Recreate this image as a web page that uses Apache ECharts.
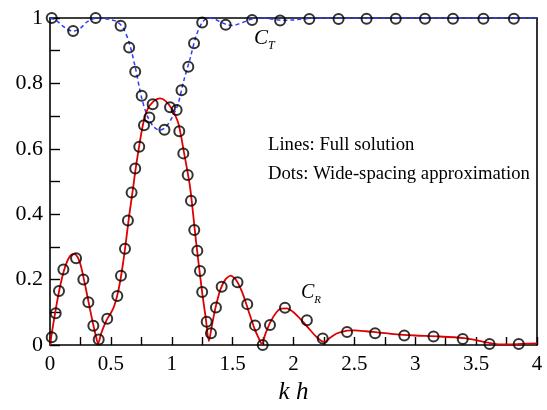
<!DOCTYPE html>
<html>
<head>
<meta charset="utf-8">
<script src="https://cdn.jsdelivr.net/npm/echarts@6/dist/echarts.min.js"></script>
<style>
html,body{margin:0;padding:0;background:#fff;}
#main{width:547px;height:410px;}
</style>
</head>
<body>
<div id="main"></div>
<script>
// Full solution: C_T (dashed blue)
var ctLineX = [0, 0.05, 0.1, 0.15, 0.19, 0.25, 0.3, 0.35, 0.39, 0.45, 0.5, 0.55, 0.6, 0.65, 0.7, 0.75, 0.8, 0.85, 0.9, 0.95, 1.0, 1.05, 1.1, 1.15, 1.2, 1.25, 1.3, 1.35, 1.4, 1.45, 1.5, 1.55, 1.6, 1.65, 1.7, 1.74, 1.8, 1.9, 2.0, 2.1, 2.2, 2.26, 2.4, 2.6, 3.0, 3.5, 4.0];
var ctLineY = [1.0, 0.993, 0.977, 0.964, 0.96, 0.969, 0.987, 0.997, 1.0, 0.998, 0.995, 0.989, 0.97, 0.925, 0.85, 0.76, 0.7, 0.668, 0.657, 0.666, 0.694, 0.735, 0.81, 0.875, 0.945, 0.986, 1.0, 0.997, 0.988, 0.98, 0.977, 0.982, 0.989, 0.996, 0.999, 1.0, 0.998, 0.993, 0.994, 0.998, 1.0, 1.0, 0.999, 0.999, 1.0, 1.0, 1.0];

// Full solution: C_R (solid red)
var crLineX = [0, 0.025, 0.05, 0.075, 0.1, 0.125, 0.15, 0.175, 0.2, 0.225, 0.25, 0.275, 0.3, 0.325, 0.35, 0.375, 0.395, 0.42, 0.45, 0.475, 0.5, 0.525, 0.55, 0.575, 0.6, 0.625, 0.65, 0.684, 0.7, 0.733, 0.766, 0.8, 0.85, 0.903, 0.95, 1.0, 1.054, 1.1, 1.15, 1.2, 1.25, 1.28, 1.305, 1.33, 1.36, 1.4, 1.44, 1.484, 1.53, 1.58, 1.63, 1.68, 1.715, 1.739, 1.77, 1.81, 1.86, 1.9, 1.944, 2.0, 2.06, 2.12, 2.18, 2.23, 2.26, 2.3, 2.36, 2.44, 2.5, 2.6, 2.7, 2.8, 2.9, 3.0, 3.2, 3.4, 3.5, 3.6, 3.7, 3.8, 3.9, 4.0];
var crLineY = [0, 0.06, 0.115, 0.165, 0.207, 0.24, 0.263, 0.276, 0.278, 0.27, 0.247, 0.207, 0.162, 0.116, 0.071, 0.03, 0.004, 0.035, 0.064, 0.083, 0.098, 0.117, 0.148, 0.192, 0.25, 0.32, 0.395, 0.484, 0.53, 0.61, 0.678, 0.72, 0.745, 0.754, 0.746, 0.722, 0.678, 0.59, 0.484, 0.315, 0.16, 0.08, 0.012, 0.06, 0.115, 0.17, 0.2, 0.212, 0.198, 0.16, 0.105, 0.05, 0.02, 0.003, 0.035, 0.07, 0.1, 0.111, 0.112, 0.1, 0.078, 0.053, 0.028, 0.012, 0.01, 0.022, 0.036, 0.044, 0.045, 0.042, 0.038, 0.034, 0.031, 0.029, 0.026, 0.021, 0.015, 0.007, 0.002, 0.002, 0.004, 0.005];

// Wide-spacing approximation: C_T dots
var ctDotX = [0.014, 0.19, 0.375, 0.58, 0.65, 0.70, 0.753, 0.816, 0.94, 1.04, 1.08, 1.136, 1.183, 1.25, 1.443, 1.66, 1.89, 2.13, 2.37, 2.60, 2.84, 3.08, 3.31, 3.56, 3.81];
var ctDotY = [1.0, 0.96, 1.0, 0.976, 0.91, 0.836, 0.762, 0.696, 0.658, 0.719, 0.779, 0.851, 0.923, 0.986, 0.979, 0.994, 0.992, 0.997, 0.997, 0.998, 0.998, 0.998, 0.998, 0.998, 0.998];

// Wide-spacing approximation: C_R dots
var crDotX = [0.014, 0.047, 0.074, 0.11, 0.214, 0.274, 0.315, 0.356, 0.40, 0.47, 0.553, 0.583, 0.616, 0.64, 0.67, 0.70, 0.733, 0.772, 0.843, 0.986, 1.062, 1.095, 1.131, 1.158, 1.185, 1.21, 1.232, 1.25, 1.287, 1.322, 1.363, 1.41, 1.54, 1.62, 1.684, 1.747, 1.807, 1.93, 2.11, 2.24, 2.44, 2.67, 2.91, 3.15, 3.39, 3.61, 3.85];
var crDotY = [0.024, 0.097, 0.165, 0.231, 0.265, 0.20, 0.131, 0.059, 0.017, 0.08, 0.15, 0.212, 0.294, 0.381, 0.466, 0.54, 0.606, 0.672, 0.736, 0.727, 0.654, 0.586, 0.52, 0.441, 0.352, 0.288, 0.226, 0.162, 0.071, 0.036, 0.115, 0.178, 0.192, 0.125, 0.06, 0.0, 0.061, 0.114, 0.076, 0.02, 0.04, 0.036, 0.029, 0.026, 0.018, 0.003, 0.003];

var xTicks = [0, 0.5, 1, 1.5, 2, 2.5, 3, 3.5, 4];
var yTicks = [0, 0.2, 0.4, 0.6, 0.8, 1];

function zip(a, b) { return a.map(function (v, i) { return [v, b[i]]; }); }

var FONT = '"Liberation Serif", "Times New Roman", serif';
var chart = echarts.init(document.getElementById('main'), null, {renderer: 'canvas'});
var dotStyle = {color: 'rgba(0,0,0,0)', borderColor: '#000', borderWidth: 2};

chart.setOption({
  animation: false,
  backgroundColor: '#fff',
  grid: {left: 50, right: 10, top: 18, bottom: 65},
  xAxis: [{
    type: 'value', min: xTicks[0], max: xTicks[xTicks.length - 1], interval: 0.5,
    position: 'bottom',
    axisLine: {show: true, onZero: false, lineStyle: {color: '#000', width: 1.6}},
    axisTick: {show: true, inside: true, length: 8, lineStyle: {color: '#000', width: 1.4}},
    minorTick: {show: true, splitNumber: 2, length: 8, lineStyle: {color: '#000', width: 1.4}},
    splitLine: {show: false},
    axisLabel: {fontFamily: FONT, fontSize: 21, color: '#000', margin: 9,
      formatter: function (v) { return String(v); }},
    name: 'k h', nameLocation: 'middle', nameGap: 45,
    nameTextStyle: {fontFamily: FONT, fontSize: 25, fontStyle: 'italic', color: '#000', verticalAlign: 'middle'}
  }, {
    type: 'value', min: 0, max: 4, position: 'top',
    axisLine: {show: true, onZero: false, lineStyle: {color: '#000', width: 1.6}},
    axisTick: {show: false}, axisLabel: {show: false}, splitLine: {show: false}
  }],
  yAxis: [{
    type: 'value', min: yTicks[0], max: yTicks[yTicks.length - 1], interval: 0.2,
    position: 'left',
    axisLine: {show: true, onZero: false, lineStyle: {color: '#000', width: 1.6}},
    axisTick: {show: true, inside: true, length: 10, lineStyle: {color: '#000', width: 1.4}},
    minorTick: {show: true, splitNumber: 2, length: 10, lineStyle: {color: '#000', width: 1.4}},
    splitLine: {show: false},
    axisLabel: {fontFamily: FONT, fontSize: 22, color: '#000', margin: 7,
      formatter: function (v) { return String(v); }}
  }, {
    type: 'value', min: 0, max: 1, position: 'right',
    axisLine: {show: true, onZero: false, lineStyle: {color: '#000', width: 1.6}},
    axisTick: {show: false}, axisLabel: {show: false}, splitLine: {show: false}
  }],
  series: [{
    type: 'line', data: zip(ctLineX, ctLineY), smooth: 0.3, showSymbol: false, symbol: 'none',
    clip: false, z: 3,
    lineStyle: {color: '#2b3cff', width: 1.5, type: [4, 3]}
  }, {
    type: 'line', data: zip(crLineX, crLineY), smooth: 0.25, showSymbol: false, symbol: 'none',
    clip: false, z: 3,
    lineStyle: {color: '#e00000', width: 1.8}
  }, {
    type: 'scatter', data: zip(ctDotX, ctDotY), symbol: 'circle', symbolSize: 10, z: 4,
    itemStyle: dotStyle
  }, {
    type: 'scatter', data: zip(crDotX, crDotY), symbol: 'circle', symbolSize: 10, z: 4,
    itemStyle: dotStyle
  }],
  graphic: [{
    type: 'text', left: 254, top: 28,
    style: {
      text: '{c|C}{s|T}',
      rich: {
        c: {fontFamily: FONT, fontSize: 21, fontStyle: 'italic', fill: '#000', verticalAlign: 'bottom'},
        s: {fontFamily: FONT, fontSize: 12, fontStyle: 'italic', fill: '#000', verticalAlign: 'bottom', padding: [0, 0, -3, 0]}
      }
    }
  }, {
    type: 'text', left: 301, top: 283,
    style: {
      text: '{c|C}{s|R}',
      rich: {
        c: {fontFamily: FONT, fontSize: 20, fontStyle: 'italic', fill: '#000', verticalAlign: 'bottom'},
        s: {fontFamily: FONT, fontSize: 11, fontStyle: 'italic', fill: '#000', verticalAlign: 'bottom', padding: [0, 0, -3, 0]}
      }
    }
  }, {
    type: 'text', left: 268, top: 136,
    style: {text: 'Lines: Full solution', fontFamily: FONT, fontSize: 18.7, fill: '#000'}
  }, {
    type: 'text', left: 268, top: 165,
    style: {text: 'Dots: Wide-spacing approximation', fontFamily: FONT, fontSize: 18.7, fill: '#000'}
  }]
});
</script>
</body>
</html>
